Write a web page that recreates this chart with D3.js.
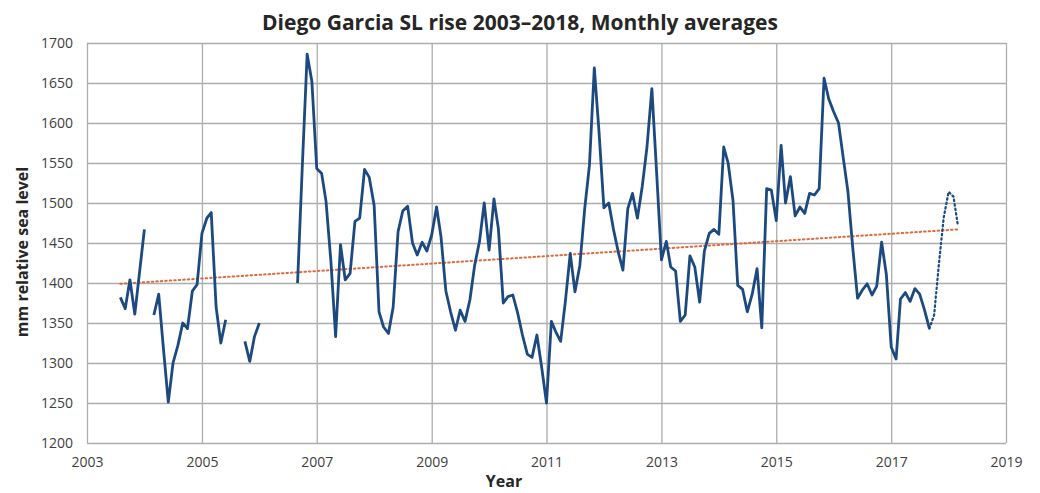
<!DOCTYPE html>
<html>
<head>
<meta charset="utf-8">
<script src="https://cdn.jsdelivr.net/npm/d3@7/dist/d3.min.js"></script>
<style>
  html, body { margin: 0; padding: 0; background: #fff; }
  svg { display: block; }
</style>
</head>
<body>
<svg id="chart" width="1040" height="493"></svg>
<script>
// ---- Data (monthly averages, mm relative sea level; null = gap) ----
const months = [
  "2003-08","2003-09","2003-10","2003-11","2004-01","2004-02",
  "2004-03","2004-04","2004-05","2004-06","2004-07","2004-08","2004-09","2004-10","2004-11","2004-12",
  "2005-01","2005-02","2005-03","2005-04","2005-05","2005-06","2005-07",
  "2005-10","2005-11","2005-12","2006-01","2006-02",
  "2006-09","2006-10","2006-11","2006-12",
  "2007-01","2007-02","2007-03","2007-04","2007-05","2007-06","2007-07","2007-08","2007-09","2007-10","2007-11","2007-12",
  "2008-01","2008-02","2008-03","2008-04","2008-05","2008-06","2008-07","2008-08","2008-09","2008-10","2008-11","2008-12",
  "2009-01","2009-02","2009-03","2009-04","2009-05","2009-06","2009-07","2009-08","2009-09","2009-10","2009-11","2009-12",
  "2010-01","2010-02","2010-03","2010-04","2010-05","2010-06","2010-07","2010-08","2010-09","2010-10","2010-11","2010-12",
  "2011-01","2011-02","2011-03","2011-04","2011-05","2011-06","2011-07","2011-08","2011-09","2011-10","2011-11","2011-12",
  "2012-01","2012-02","2012-03","2012-04","2012-05","2012-06","2012-07","2012-08","2012-09","2012-10","2012-11","2012-12",
  "2013-01","2013-02","2013-03","2013-04","2013-05","2013-06","2013-07","2013-08","2013-09","2013-10","2013-11","2013-12",
  "2014-01","2014-02","2014-03","2014-04","2014-05","2014-06","2014-07","2014-08","2014-09","2014-10","2014-11","2014-12",
  "2015-01","2015-02","2015-03","2015-04","2015-05","2015-06","2015-07","2015-08","2015-09","2015-10","2015-11","2015-12",
  "2016-01","2016-02","2016-03","2016-04","2016-05","2016-06","2016-07","2016-08","2016-09","2016-10","2016-11","2016-12",
  "2017-01","2017-02","2017-03","2017-04","2017-05","2017-06","2017-07","2017-08","2017-09"
];
const seaLevel = [
  1382,1368,1404,1361,1467,null,
  1360,1386,1318,1251,1300,1322,1350,1343,1390,1398,
  1462,1481,1488,1370,1325,1354,null,
  1327,1302,1333,1350,null,
  1400,1545,1686,1652,
  1543,1537,1502,1427,1333,1448,1404,1412,1477,1481,1542,1532,
  1497,1364,1345,1337,1370,1464,1490,1496,1450,1435,1451,1440,
  1460,1495,1458,1390,1364,1341,1366,1352,1379,1422,1452,1500,
  1441,1505,1468,1375,1383,1385,1363,1335,1311,1307,1335,1295,
  1250,1352,1339,1327,1377,1437,1389,1422,1493,1547,1669,1589,
  1494,1500,1468,1439,1416,1493,1512,1481,1521,1570,1643,1539,
  1429,1452,1420,1415,1352,1360,1434,1420,1376,1440,1462,1467,
  1461,1570,1550,1503,1397,1392,1364,1386,1418,1344,1518,1516,
  1478,1572,1500,1533,1484,1495,1487,1512,1510,1518,1656,1630,
  1614,1600,1558,1514,1445,1381,1391,1399,1385,1396,1451,1411,
  1320,1305,1380,1388,1377,1393,1386,1366,1343
];
// dotted continuation (provisional months)
const provisionalMonths = ["2017-09","2017-10","2017-11","2017-12","2018-01","2018-02","2018-03"];
const provisionalLevel  = [1343,1360,1425,1482,1514,1508,1472];
// linear trend line end points
const trendMonths = ["2003-08","2018-03"];
const trendLevel  = [1399,1467];

const yTicks = [1200,1250,1300,1350,1400,1450,1500,1550,1600,1650,1700];
const xTickYears = [2003,2005,2007,2009,2011,2013,2015,2017,2019];

const titleText = "Diego Garcia SL rise 2003\u20132018, Monthly averages";
const xTitle = "Year";
const yTitle = "mm relative sea level";

// ---- Drawing ----
const parse = d3.timeParse("%Y-%m");
const svg = d3.select("#chart");
const L = 87, R = 1006, T = 43, B = 443;

const x = d3.scaleTime()
  .domain([new Date(2003,0,1), new Date(2019,0,1)])
  .range([L, R]);
const y = d3.scaleLinear().domain([1200,1700]).range([B, T]);

const font = "'Open Sans', 'Liberation Sans', sans-serif";

// y axis + horizontal gridlines
const gy = svg.append("g").attr("transform", `translate(${L},0)`)
  .call(d3.axisLeft(y).tickValues(yTicks).tickSize(-(R - L)).tickPadding(14).tickFormat(d3.format("d")));
gy.select(".domain").remove();
gy.selectAll(".tick line").attr("stroke", "#adadad").attr("stroke-width", 1.3);
gy.selectAll(".tick text").attr("font-family", font).attr("font-size", 14).attr("fill", "#404040");

// x axis + vertical gridlines
const gx = svg.append("g").attr("transform", `translate(0,${B})`)
  .call(d3.axisBottom(x).tickValues(xTickYears.map(yr => new Date(yr,0,1)))
    .tickSize(-(B - T)).tickPadding(14).tickFormat(d3.timeFormat("%Y")));
gx.select(".domain").remove();
gx.selectAll(".tick line").attr("stroke", "#adadad").attr("stroke-width", 1.3);
gx.selectAll(".tick text").attr("font-family", font).attr("font-size", 14).attr("fill", "#404040");

// trend line
const trendData = trendMonths.map((m,i) => ({d: parse(m), v: trendLevel[i]}));
svg.append("path").datum(trendData)
  .attr("fill","none").attr("stroke","#e2683c").attr("stroke-width",2)
  .attr("stroke-dasharray","1.5,3").attr("stroke-linecap","round")
  .attr("d", d3.line().x(d => x(d.d)).y(d => y(d.v)));

// main series
const line = d3.line().defined(d => d.v != null).x(d => x(d.d)).y(d => y(d.v));
const mainData = months.map((m,i) => ({d: parse(m), v: seaLevel[i]}));
svg.append("path").datum(mainData)
  .attr("fill","none").attr("stroke","#1c4a80").attr("stroke-width",2.8)
  .attr("stroke-linejoin","round")
  .attr("d", line);

// provisional dotted continuation
const provData = provisionalMonths.map((m,i) => ({d: parse(m), v: provisionalLevel[i]}));
svg.append("path").datum(provData)
  .attr("fill","none").attr("stroke","#1c4a80").attr("stroke-width",2.2)
  .attr("stroke-dasharray","1.5,3").attr("stroke-linecap","round")
  .attr("d", line);

// titles
svg.append("text").attr("x", 520).attr("y", 30).attr("text-anchor","middle")
  .attr("font-family", font).attr("font-weight","bold").attr("font-size", 21).attr("fill","#262626")
  .text(titleText);
svg.append("text").attr("x", 504).attr("y", 487).attr("text-anchor","middle")
  .attr("font-family", font).attr("font-weight","bold").attr("font-size", 16).attr("fill","#262626")
  .text(xTitle);
svg.append("text").attr("transform","translate(28,252) rotate(-90)").attr("text-anchor","middle")
  .attr("font-family", font).attr("font-weight","bold").attr("font-size", 16).attr("fill","#262626")
  .text(yTitle);
</script>
</body>
</html>
